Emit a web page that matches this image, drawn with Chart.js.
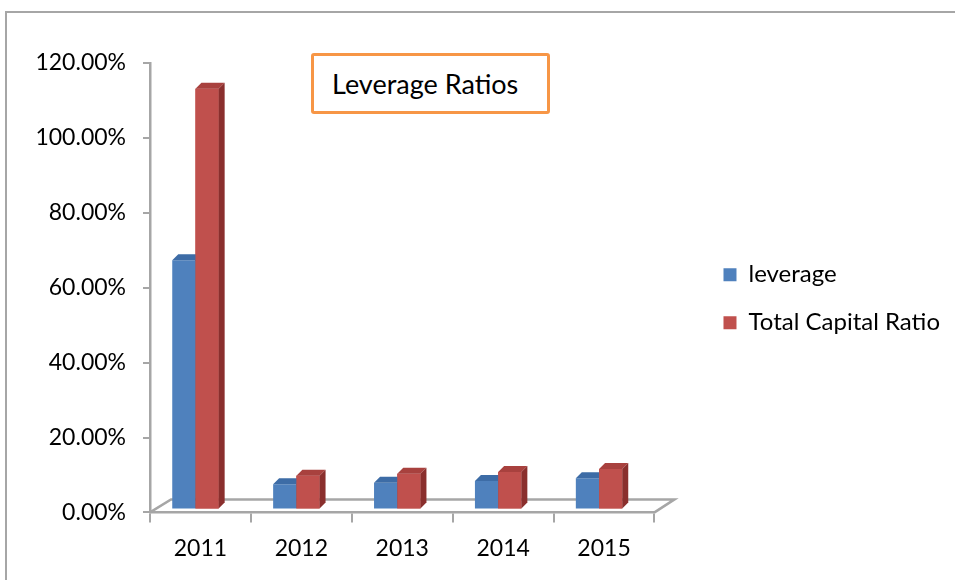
<!DOCTYPE html>
<html>
<head>
<meta charset="utf-8">
<script src="https://cdn.jsdelivr.net/npm/chart.js@4"></script>
<style>
  html, body { margin: 0; padding: 0; background: #fff; overflow: hidden; }
  #wrap { position: relative; width: 955px; height: 580px; }
  #marco { position: absolute; left: 5px; top: 11px; width: 1000px; height: 600px;
           border-left: 2px solid #a6a6a6; border-top: 2px solid #a6a6a6; }
  #titulo { position: absolute; left: 311px; top: 53px; width: 230px; height: 55px;
            border: 3px solid #f79646; border-radius: 3px; background: #fff;
            font-family: Lato, sans-serif; font-size: 27px; color: #000;
            line-height: 55px; padding-left: 3px; text-indent: 15px; white-space: nowrap; }
  canvas { position: absolute; left: 0; top: 0; }
</style>
</head>
<body>
<div id="wrap">
  <div id="marco"></div>
  <canvas id="chart-bars" width="955" height="580"></canvas>
  <div id="titulo">Leverage Ratios</div>
</div>
<script>
/* Datos del gráfico */
var anios = ["2011", "2012", "2013", "2014", "2015"];
var leverage = [66.5, 6.7, 7.1, 7.6, 8.3];
var totalCapitalRatio = [112.3, 9.0, 9.5, 10.0, 10.8];
var ticksY = [0, 20, 40, 60, 80, 100, 120];

var azul = "#4f81bd";
var rojo = "#c0504d";
var gris = "#a6a6a6";

// caras superior y lateral de una serie
function caras(chart, i) {
  var c = chart.ctx;
  var ds = chart.data.datasets[i];
  var dx = 6, dy = 6;
  chart.getDatasetMeta(i).data.forEach(function(bar) {
    var p = bar.getProps(["x", "y", "base", "width"], true);
    var l = p.x - p.width / 2, r = p.x + p.width / 2;
    c.fillStyle = ds.topColor;
    c.beginPath();
    c.moveTo(l, p.y);
    c.lineTo(l + dx, p.y - dy);
    c.lineTo(r + dx, p.y - dy);
    c.lineTo(r, p.y);
    c.closePath();
    c.fill();
    c.fillStyle = ds.sideColor;
    c.beginPath();
    c.moveTo(r, p.y);
    c.lineTo(r + dx, p.y - dy);
    c.lineTo(r + dx, p.base - dy);
    c.lineTo(r, p.base);
    c.closePath();
    c.fill();
  });
}

// Piso y efecto 3D
var efecto3d = {
  id: "efecto3d",
  beforeDatasetsDraw: function(chart) {
    var c = chart.ctx, a = chart.chartArea;
    c.save();
    c.strokeStyle = gris;
    c.lineWidth = 2.5;
    c.beginPath();
    c.moveTo(a.left, a.bottom);
    c.lineTo(a.left + 21, a.bottom - 13);
    c.lineTo(a.right + 20, a.bottom - 13);
    c.lineTo(a.right, a.bottom);
    c.stroke();
    c.restore();
    // barras un poco hacia atrás
    c.save();
    c.translate(-5, -3);
  },
  afterDatasetsDraw: function(chart) {
    caras(chart, 0);
    // la serie roja va delante de las caras azules
    chart.getDatasetMeta(1).controller.draw();
    caras(chart, 1);
    chart.ctx.restore();
  }
};

var ctx = document.getElementById("chart-bars").getContext("2d");

new Chart(ctx, {
  type: "bar",
  data: {
    labels: anios,
    datasets: [{
      label: "leverage",
      data: leverage,
      backgroundColor: azul,
      topColor: "#3d6ca6",
      sideColor: "#2f5785",
      borderWidth: 0
    }, {
      label: "Total Capital Ratio",
      data: totalCapitalRatio,
      backgroundColor: rojo,
      topColor: "#a8413e",
      sideColor: "#8a2f2d",
      borderWidth: 0
    }]
  },
  options: {
    responsive: false,
    animation: false,
    categoryPercentage: 0.46,
    barPercentage: 1,
    layout: {
      padding: { top: 63, right: 5, bottom: 6, left: 0 }
    },
    plugins: {
      legend: {
        position: "right",
        fullSize: false,
        maxWidth: 400,
        title: { display: true, text: " ", padding: 0, font: { size: 22, lineHeight: 1 } },
        labels: {
          boxWidth: 13,
          boxHeight: 13,
          padding: 24,
          color: "#000",
          font: { family: "Lato", size: 24 }
        }
      },
      tooltip: { enabled: false }
    },
    scales: {
      y: {
        min: 0,
        max: 120,
        afterFit: function(axis) { axis.width = 150; },
        afterBuildTicks: function(axis) {
          axis.ticks = ticksY.map(function(v) { return { value: v }; });
        },
        grid: {
          drawOnChartArea: false,
          drawTicks: true,
          tickLength: 7,
          color: gris,
          lineWidth: 2
        },
        border: { display: true, color: gris, width: 2.5 },
        ticks: {
          padding: 17,
          color: "#000",
          font: { family: "Lato", size: 23 },
          callback: function(v) { return v.toFixed(2) + "%"; }
        }
      },
      // espacio entre el gráfico y la leyenda
      espacio: {
        type: "linear",
        position: "right",
        afterFit: function(axis) { axis.width = 45; },
        grid: { display: false },
        border: { display: false },
        ticks: { display: false }
      },
      x: {
        grid: {
          drawOnChartArea: false,
          drawTicks: true,
          tickLength: 10,
          color: gris,
          lineWidth: 2
        },
        border: { display: true, color: gris, width: 2.5 },
        ticks: {
          padding: 12,
          color: "#000",
          font: { family: "Lato", size: 23 }
        }
      }
    }
  },
  plugins: [efecto3d]
});
</script>
</body>
</html>
